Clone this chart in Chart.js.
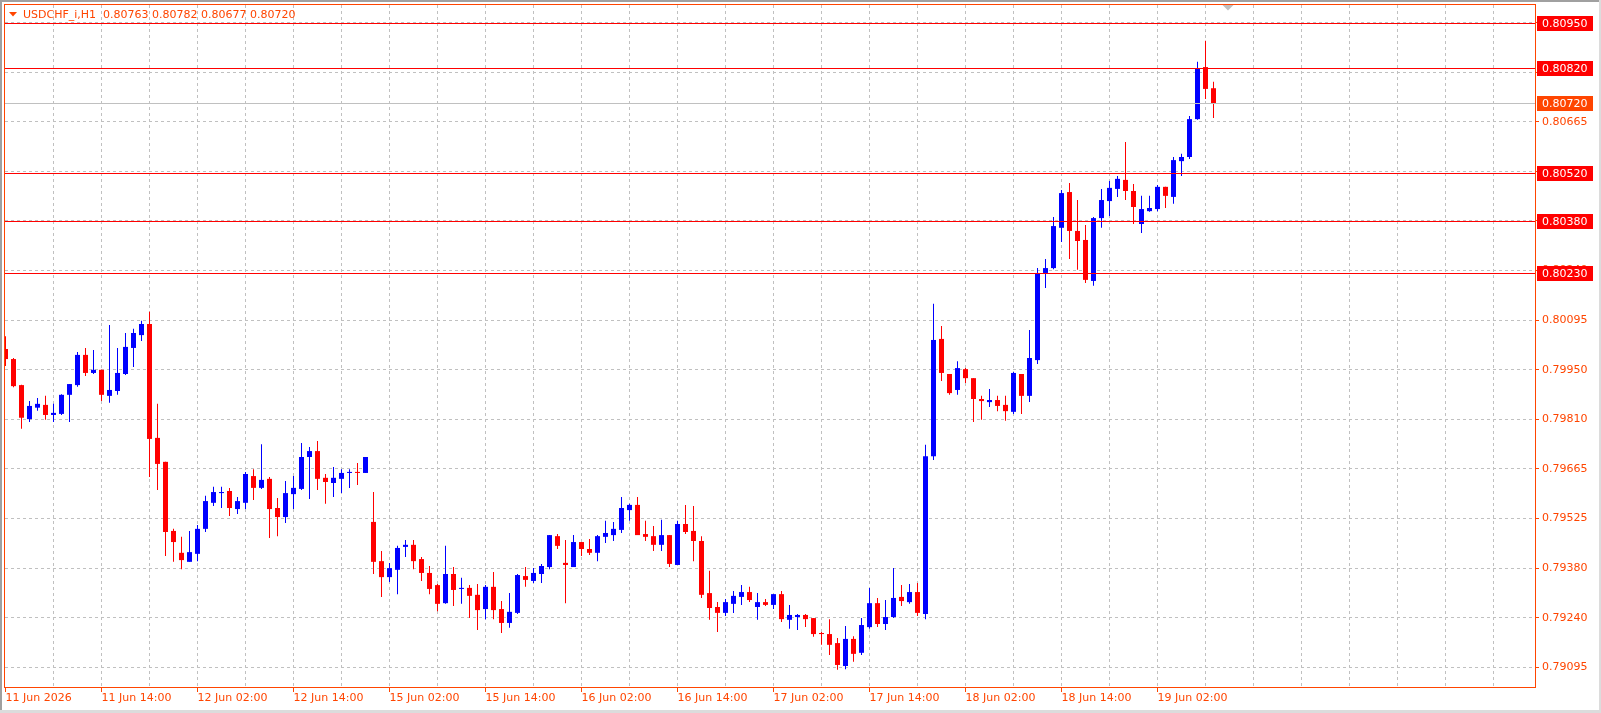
<!DOCTYPE html>
<html>
<head>
<meta charset="utf-8">
<script src="https://cdn.jsdelivr.net/npm/chart.js@4.4.1/dist/chart.umd.min.js"></script>
<style>
html,body{margin:0;padding:0;background:#ffffff;overflow:hidden}
#wrap{width:1601px;height:713px;position:relative}
canvas{display:block}
</style>
</head>
<body>
<div id="wrap"><canvas id="c" width="1601" height="713"></canvas></div>
<script>
// ---- data (USDCHF_i, H1), one value per bar, oldest first ----
const openP = [
0.80012,0.79983,0.79908,0.79810,0.79843,0.79851,0.79822,0.79825,0.79880,0.79908,
0.79995,0.79943,0.79952,0.79877,0.79891,0.79940,0.80015,0.80052,0.80084,0.79756,
0.79687,0.79488,0.79425,0.79399,0.79422,0.79494,0.79569,0.79597,0.79603,0.79551,
0.79569,0.79646,0.79612,0.79638,0.79554,0.79528,0.79594,0.79609,0.79701,0.79718,
0.79641,0.79626,0.79638,0.79655,0.79658,0.79655,0.79514,0.79401,0.79355,0.79376,
0.79442,0.79448,0.79407,0.79367,0.79332,0.79280,0.79364,0.79321,0.79324,0.79304,
0.79263,0.79327,0.79263,0.79223,0.79252,0.79358,0.79344,0.79364,0.79384,0.79473,
0.79396,0.79384,0.79456,0.79436,0.79425,0.79471,0.79476,0.79491,0.79548,0.79563,
0.79479,0.79473,0.79448,0.79476,0.79390,0.79508,0.79488,0.79459,0.79309,0.79269,
0.79252,0.79278,0.79298,0.79312,0.79269,0.79283,0.79275,0.79306,0.79232,0.79240,
0.79246,0.79237,0.79194,0.79191,0.79165,0.79099,0.79177,0.79137,0.79211,0.79280,
0.79220,0.79240,0.79298,0.79283,0.79312,0.79249,0.79703,0.80041,0.79940,0.79894,
0.79954,0.79928,0.79868,0.79859,0.79865,0.79851,0.79831,0.79940,0.79877,0.79980,
0.80231,0.80245,0.80361,0.80464,0.80352,0.80326,0.80208,0.80389,0.80438,0.80473,
0.80499,0.80467,0.80372,0.80409,0.80415,0.80479,0.80450,0.80553,0.80565,0.80674,
0.80824,0.80763
];
const highP = [
0.80049,0.79986,0.79909,0.79862,0.79871,0.79877,0.79854,0.79882,0.79911,0.80003,
0.80015,0.80009,0.79952,0.80081,0.80015,0.80058,0.80070,0.80093,0.80119,0.79854,
0.79687,0.79494,0.79471,0.79488,0.79505,0.79589,0.79615,0.79615,0.79612,0.79586,
0.79658,0.79666,0.79738,0.79643,0.79583,0.79632,0.79646,0.79741,0.79730,0.79747,
0.79652,0.79672,0.79666,0.79666,0.79684,0.79701,0.79600,0.79430,0.79396,0.79445,
0.79462,0.79462,0.79413,0.79387,0.79335,0.79445,0.79384,0.79353,0.79332,0.79335,
0.79332,0.79370,0.79286,0.79309,0.79364,0.79384,0.79381,0.79393,0.79476,0.79479,
0.79462,0.79476,0.79456,0.79465,0.79476,0.79517,0.79514,0.79586,0.79566,0.79586,
0.79517,0.79502,0.79520,0.79476,0.79517,0.79563,0.79560,0.79473,0.79373,0.79283,
0.79292,0.79315,0.79332,0.79327,0.79309,0.79292,0.79306,0.79315,0.79275,0.79249,
0.79249,0.79237,0.79197,0.79234,0.79180,0.79214,0.79185,0.79237,0.79324,0.79295,
0.79289,0.79381,0.79332,0.79335,0.79338,0.79736,0.80142,0.80078,0.79940,0.79977,
0.79957,0.79928,0.79877,0.79897,0.79877,0.79877,0.79946,0.79940,0.80067,0.80245,
0.80271,0.80392,0.80470,0.80490,0.80441,0.80369,0.80392,0.80473,0.80496,0.80510,
0.80608,0.80487,0.80453,0.80453,0.80484,0.80479,0.80565,0.80574,0.80683,0.80839,
0.80900,0.80782
];
const lowP = [
0.79963,0.79902,0.79782,0.79802,0.79834,0.79808,0.79802,0.79822,0.79802,0.79903,
0.79934,0.79940,0.79862,0.79857,0.79880,0.79937,0.79960,0.80035,0.79643,0.79606,
0.79416,0.79399,0.79378,0.79399,0.79401,0.79485,0.79560,0.79554,0.79531,0.79537,
0.79551,0.79577,0.79609,0.79468,0.79473,0.79511,0.79551,0.79606,0.79580,0.79606,
0.79566,0.79586,0.79597,0.79612,0.79620,0.79655,0.79364,0.79298,0.79341,0.79306,
0.79413,0.79378,0.79344,0.79306,0.79257,0.79278,0.79272,0.79278,0.79237,0.79203,
0.79234,0.79234,0.79194,0.79209,0.79249,0.79327,0.79338,0.79338,0.79378,0.79436,
0.79280,0.79384,0.79416,0.79419,0.79401,0.79453,0.79459,0.79482,0.79517,0.79476,
0.79459,0.79430,0.79430,0.79384,0.79390,0.79479,0.79401,0.79295,0.79232,0.79197,
0.79243,0.79252,0.79275,0.79283,0.79232,0.79272,0.79263,0.79226,0.79206,0.79203,
0.79211,0.79183,0.79160,0.79131,0.79088,0.79090,0.79111,0.79131,0.79206,0.79211,
0.79203,0.79237,0.79272,0.79278,0.79243,0.79234,0.79692,0.79920,0.79880,0.79880,
0.79914,0.79802,0.79808,0.79845,0.79833,0.79805,0.79825,0.79825,0.79859,0.79969,
0.80188,0.80242,0.80320,0.80271,0.80240,0.80202,0.80194,0.80361,0.80395,0.80450,
0.80441,0.80372,0.80346,0.80407,0.80409,0.80418,0.80430,0.80510,0.80559,0.80672,
0.80732,0.80677
];
const closeP = [
0.79983,0.79905,0.79814,0.79848,0.79854,0.79822,0.79828,0.79880,0.79911,0.79995,
0.79943,0.79952,0.79880,0.79894,0.79943,0.80018,0.80058,0.80084,0.79753,0.79681,
0.79485,0.79456,0.79404,0.79427,0.79494,0.79574,0.79600,0.79600,0.79554,0.79574,
0.79652,0.79612,0.79635,0.79551,0.79528,0.79597,0.79612,0.79701,0.79718,0.79638,
0.79629,0.79641,0.79655,0.79658,0.79655,0.79701,0.79399,0.79355,0.79381,0.79439,
0.79448,0.79401,0.79367,0.79321,0.79278,0.79364,0.79318,0.79324,0.79301,0.79260,
0.79327,0.79260,0.79223,0.79255,0.79361,0.79347,0.79367,0.79387,0.79476,0.79445,
0.79390,0.79456,0.79436,0.79425,0.79473,0.79482,0.79494,0.79554,0.79563,0.79476,
0.79471,0.79448,0.79476,0.79393,0.79508,0.79485,0.79459,0.79304,0.79266,0.79252,
0.79283,0.79301,0.79312,0.79289,0.79283,0.79275,0.79306,0.79234,0.79246,0.79246,
0.79234,0.79191,0.79191,0.79160,0.79102,0.79177,0.79134,0.79217,0.79280,0.79220,
0.79240,0.79295,0.79286,0.79312,0.79252,0.79703,0.80038,0.79943,0.79885,0.79957,
0.79928,0.79868,0.79862,0.79865,0.79848,0.79833,0.79943,0.79877,0.79986,0.80231,
0.80245,0.80366,0.80461,0.80352,0.80323,0.80211,0.80389,0.80441,0.80476,0.80502,
0.80467,0.80421,0.80415,0.80418,0.80479,0.80453,0.80556,0.80565,0.80674,0.80821,
0.80761,0.80720
];
// horizontal levels (red lines) and the bid line
const hLevels = [0.80950, 0.80820, 0.80520, 0.80380, 0.80230];
const bidLevel = 0.80720;
// price grid (tick values and the labels MetaTrader prints for them)
const gridTicks = [0.790953,0.792381,0.793810,0.795238,0.796667,0.798095,0.799524,
                   0.800952,0.802381,0.803810,0.805238,0.806667,0.808095,0.809524];
const gridLabels = ['0.79095','0.79240','0.79380','0.79525','0.79665','0.79810','0.79950',
                    '0.80095','0.80240','0.80380','0.80525','0.80665','0.80810','0.80950'];
// time axis: bar indices of vertical grid lines and labelled bars
const gridIdx = [0,6,12,18,24,30,36,42,48,54,60,66,72,78,84,90,96,102,108,114,120,126,132,138,144,150,156,162,168,174,180,186];
const xLabelIdx = [0,12,24,36,48,60,72,84,96,108,120,132,144];
const xLabels = ['11 Jun 2026','11 Jun 14:00','12 Jun 02:00','12 Jun 14:00','15 Jun 02:00','15 Jun 14:00',
                 '16 Jun 02:00','16 Jun 14:00','17 Jun 02:00','17 Jun 14:00','18 Jun 02:00','18 Jun 14:00','19 Jun 02:00'];
const symbolTitle = 'USDCHF_i,H1';

// ---- view settings ----
const X_MIN = -0.0625, X_MAX = 191.1875;
const Y_MIN = 0.7903854, Y_MAX = 0.810027;
const BLUE = '#0000ff', RED = '#ff0000', AX = '#ff4500', GRID = '#c0c0c0';
const FONT = 'DejaVu Sans';

const idx = openP.map((_, i) => i);
const colors = idx.map(i => closeP[i] >= openP[i] ? BLUE : RED);
const bodyData = idx.map(i => ({x: i, y: [openP[i], closeP[i]]}));
const wickData = idx.map(i => ({x: i, y: [lowP[i], highP[i]]}));

Chart.defaults.font.family = FONT;

const decor = {
  id: 'decor',
  afterDatasetsDraw(chart) {
    const {ctx, chartArea: a, scales: {y}} = chart;
    ctx.save();
    const yb = Math.round(y.getPixelForValue(bidLevel));
    ctx.fillStyle = GRID;
    ctx.fillRect(a.left, yb, a.right - a.left, 1);
    ctx.fillStyle = RED;
    hLevels.forEach(v => {
      const yy = Math.round(y.getPixelForValue(v));
      ctx.fillRect(a.left, yy, a.right - a.left, 1);
    });
    ctx.restore();
  },
  afterDraw(chart) {
    const {ctx, chartArea: a, scales: {y}} = chart;
    ctx.save();
    // level labels on the price axis
    ctx.font = '11px "' + FONT + '"';
    ctx.textBaseline = 'middle';
    ctx.textAlign = 'left';
    const tag = (v, bg) => {
      const yy = Math.round(y.getPixelForValue(v));
      ctx.fillStyle = bg;
      ctx.fillRect(a.right + 2, yy - 7, 56, 15);
      ctx.fillStyle = '#ffffff';
      ctx.fillText(v.toFixed(5), a.right + 7, yy + 1);
    };
    hLevels.forEach(v => tag(v, RED));
    tag(bidLevel, AX);
    // frame
    ctx.strokeStyle = AX;
    ctx.lineWidth = 1;
    ctx.strokeRect(a.left - 0.5, a.top - 0.5, a.right - a.left + 1, a.bottom - a.top + 1);
    // title
    const n = openP.length - 1;
    ctx.fillStyle = AX;
    ctx.beginPath();
    ctx.moveTo(9, 12); ctx.lineTo(17, 12); ctx.lineTo(13, 16.5); ctx.closePath(); ctx.fill();
    ctx.fillText(symbolTitle + '  ' + [openP[n], highP[n], lowP[n], closeP[n]].map(v => v.toFixed(5)).join(' '), 23, 15);
    // shift marker
    ctx.fillStyle = GRID;
    ctx.beginPath();
    ctx.moveTo(1222.5, 5); ctx.lineTo(1233.5, 5); ctx.lineTo(1228, 10.5); ctx.closePath(); ctx.fill();
    // window edges
    ctx.fillStyle = '#a0a0a0';
    ctx.fillRect(0, 0, 1601, 2);
    ctx.fillRect(0, 0, 2, 713);
    ctx.fillStyle = '#dcdcdc';
    ctx.fillRect(0, 710, 1601, 3);
    ctx.fillRect(1599, 0, 2, 713);
    ctx.restore();
  }
};

new Chart(document.getElementById('c'), {
  type: 'bar',
  data: {
    datasets: [
      {data: wickData, backgroundColor: colors, barThickness: 1, grouped: false, inflateAmount: 0, borderWidth: 0, order: 2},
      {data: bodyData, backgroundColor: colors, barThickness: 5, grouped: false, inflateAmount: 0, borderWidth: 0, minBarLength: 1, order: 1}
    ]
  },
  options: {
    responsive: false,
    animation: false,
    devicePixelRatio: 1,
    events: [],
    layout: {padding: {left: 5, top: 5, right: 0, bottom: 0}},
    plugins: {legend: {display: false}, tooltip: {enabled: false}, title: {display: false}},
    scales: {
      x: {
        type: 'linear', position: 'bottom', min: X_MIN, max: X_MAX, offset: false,
        afterBuildTicks: s => { s.ticks = gridIdx.map(v => ({value: v})); },
        afterFit: s => { s.height = 26; s.paddingLeft = 0; s.paddingRight = 0; s.paddingTop = 0; s.paddingBottom = 0; },
        grid: {
          offset: false,
          color: c => (c.tick && c.tick.value === 0) ? 'rgba(0,0,0,0)' : GRID,
          lineWidth: 1, drawTicks: true, tickLength: 5,
          tickColor: c => (c.tick && xLabelIdx.includes(c.tick.value)) ? AX : 'rgba(0,0,0,0)'
        },
        border: {display: false, dash: [3, 3]},
        ticks: {
          autoSkip: false, maxRotation: 0, minRotation: 0, align: 'start', padding: 0,
          color: AX, font: {family: FONT, size: 11},
          callback: v => { const k = xLabelIdx.indexOf(v); return k >= 0 ? xLabels[k] : ''; }
        }
      },
      y: {
        type: 'linear', position: 'right', min: Y_MIN, max: Y_MAX,
        afterBuildTicks: s => { s.ticks = gridTicks.map(v => ({value: v})); },
        afterFit: s => { s.width = 66; s.paddingLeft = 0; s.paddingRight = 0; s.paddingTop = 0; s.paddingBottom = 0; },
        grid: {color: GRID, lineWidth: 1, drawTicks: true, tickLength: 4, tickColor: AX},
        border: {display: false, dash: [3, 3]},
        ticks: {
          autoSkip: false, padding: 3, color: AX, font: {family: FONT, size: 11},
          callback: (v, i) => gridLabels[i]
        }
      }
    }
  },
  plugins: [decor]
});
</script>
</body>
</html>
